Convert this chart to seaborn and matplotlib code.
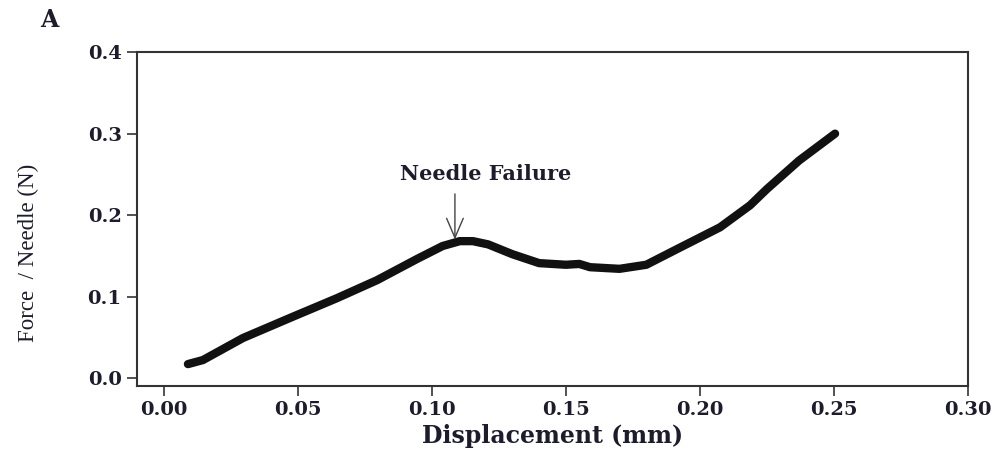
import numpy as np
import pandas as pd
import seaborn as sns
import matplotlib.pyplot as plt

# valores
displacement = [0.009, 0.0146, 0.0295, 0.048, 0.0646, 0.0795, 0.0944, 0.104, 0.1104,
                0.1153, 0.121, 0.130, 0.140, 0.150, 0.155, 0.159, 0.170, 0.180,
                0.1925, 0.2075, 0.2187, 0.225, 0.237, 0.2504]
force = [0.017, 0.022, 0.049, 0.075, 0.098, 0.120, 0.146, 0.162, 0.168,
         0.168, 0.164, 0.152, 0.141, 0.139, 0.140, 0.136, 0.134, 0.139,
         0.160, 0.185, 0.212, 0.232, 0.267, 0.300]

x_ticks = [0.00, 0.05, 0.10, 0.15, 0.20, 0.25, 0.30]
y_ticks = [0.0, 0.1, 0.2, 0.3, 0.4]

df = pd.DataFrame({"Displacement": displacement, "Force": force})

sns.set_style("ticks")
plt.rcParams['font.family'] = ['DejaVu Serif']
txt = "#1c1c2c"

fig = plt.figure(figsize=(10, 4.5), dpi=100)
ax = fig.add_axes([0.137, 0.142, 0.831, 0.742])

sns.lineplot(data=df, x="Displacement", y="Force", ax=ax, color="#111111",
             linewidth=6, solid_capstyle="round", solid_joinstyle="round")

ax.set_xlim(-0.01, 0.30)
ax.set_ylim(-0.01, 0.40)
ax.set_xticks(x_ticks)
ax.set_yticks(y_ticks)
ax.set_xticklabels([f"{v:.2f}" for v in x_ticks])
ax.set_yticklabels([f"{v:.1f}" for v in y_ticks])
for lab in ax.get_xticklabels() + ax.get_yticklabels():
    lab.set_fontweight("bold")
    lab.set_fontsize(14)
    lab.set_color(txt)
ax.tick_params(direction="out", length=7, width=1.2, colors="#333333",
               labelcolor=txt, pad=4)
for s in ax.spines.values():
    s.set_linewidth(1.5)
    s.set_color("#333333")

ax.set_xlabel("Displacement (mm)", fontsize=17, fontweight="bold", color=txt, labelpad=3)
ax.set_ylabel("Force  / Needle (N)", fontsize=16.5, color=txt,
              family=["Liberation Serif"])
ax.yaxis.set_label_coords(-0.118, 0.40)

# flecha y texto de la falla
ax.annotate("", xy=(0.1086, 0.170), xytext=(0.1086, 0.226),
            arrowprops=dict(arrowstyle="->,head_length=0.7,head_width=0.3",
                            color="#444444", lw=1.0, shrinkA=0, shrinkB=0,
                            mutation_scale=20))
ax.text(0.120, 0.250, "Needle Failure", ha="center", va="center",
        fontsize=15, fontweight="bold", color=txt)

fig.text(0.04, 0.955, "A", fontsize=17, fontweight="bold", color=txt, va="center")

fig.savefig("out.png", dpi=100)
